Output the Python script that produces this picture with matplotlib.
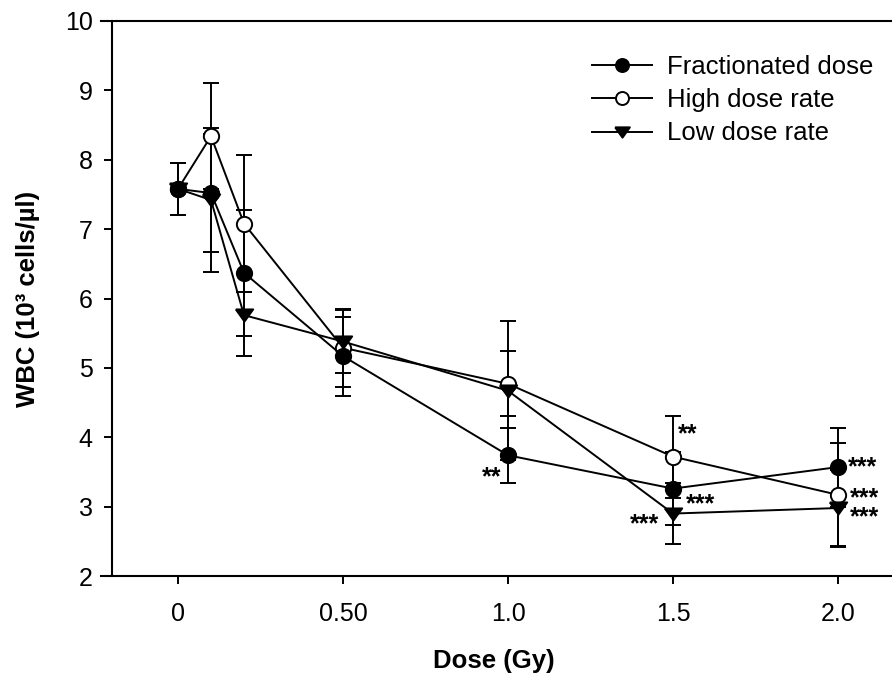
import matplotlib
matplotlib.use('Agg')
import matplotlib.pyplot as plt

plt.rcParams['font.family'] = ['Liberation Sans', 'DejaVu Sans']

# WBC counts (10^3 cells/ul) vs dose
dose = [0, 0.1, 0.2, 0.5, 1.0, 1.5, 2.0]
frac = [7.58, 7.52, 6.37, 5.17, 3.74, 3.26, 3.57]
frac_err = [0.38, 0.85, 0.91, 0.57, 0.40, 0.53, 0.57]
high = [7.58, 8.34, 7.08, 5.29, 4.77, 3.72, 3.17]
high_err = [0.38, 0.76, 0.99, 0.56, 0.47, 0.59, 0.75]
low = [7.58, 7.42, 5.76, 5.38, 4.67, 2.90, 2.98]
low_err = [0.38, 1.04, 0.59, 0.45, 1.00, 0.44, 0.55]

labels = ['Fractionated dose', 'High dose rate', 'Low dose rate']
xticks = [0, 0.5, 1.0, 1.5, 2.0]
xticklabels = ['0', '0.50', '1.0', '1.5', '2.0']
yticks = [2, 3, 4, 5, 6, 7, 8, 9, 10]

# significance marks: (series, dose, text)
stars = [('frac', 1.0, '**'), ('high', 1.5, '**'), ('frac', 1.5, '***'),
         ('low', 1.5, '***'), ('frac', 2.0, '***'), ('high', 2.0, '***'),
         ('low', 2.0, '***')]
star_offsets = [(-16, -22), (15, 22), (28, -16), (-28, -11), (25, 0), (27, -3), (27, -9)]

series = {'frac': frac, 'high': high, 'low': low}

# flat down-pointing triangle like the original
tri = [(-1, 0.7), (1, 0.7), (0, -0.7), (-1, 0.7)]

fig = plt.figure(figsize=(8.92, 6.79), dpi=100)
ax = fig.add_axes([101 / 892, 1 - 576 / 679, 791 / 892, 555 / 679])

lw = 1.4
common = dict(color='black', lw=lw, elinewidth=lw, capthick=lw, capsize=6,
              markeredgewidth=1.4, markeredgecolor='black')
h_high = ax.errorbar(dose, high, yerr=high_err, fmt='-', marker='o', markersize=11,
                     markerfacecolor='white', **common)
h_low = ax.errorbar(dose, low, yerr=low_err, fmt='-', marker=tri, markersize=12.5,
                    markerfacecolor='black', **common)
h_frac = ax.errorbar(dose, frac, yerr=frac_err, fmt='-', marker='o', markersize=11,
                     markerfacecolor='black', **common)

for (name, d, txt), off in zip(stars, star_offsets):
    ax.annotate(txt, xy=(d, series[name][dose.index(d)]), xytext=off,
                textcoords='offset pixels', ha='center', va='center',
                fontsize=18, fontweight='bold')

ax.set_xlim(-0.2333, 2.1636)
ax.set_ylim(2, 10)
ax.set_xticks(xticks)
ax.set_xticklabels(xticklabels)
ax.set_yticks(yticks)

ax.spines['right'].set_visible(False)
ax.spines['left'].set_position(('data', -0.2))
for s in ['left', 'top', 'bottom']:
    ax.spines[s].set_linewidth(1.5)
ax.tick_params(axis='x', direction='out', length=6, width=1.4, pad=13, labelsize=18)
ax.tick_params(axis='y', direction='out', length=6, width=1.4, pad=8, labelsize=18)

ax.set_xlabel('Dose (Gy)', fontsize=18.5, fontweight='bold')
ax.xaxis.set_label_coords(0.497, -0.131)
ax.xaxis.label.set_va('top')
ax.set_ylabel('WBC (10³ cells/µl)', fontsize=18.5, fontweight='bold')
ax.yaxis.set_label_coords(-0.077, 0.5)

ax.legend([h_frac[0], h_high[0], h_low[0]], labels, loc='upper left',
          bbox_to_anchor=(592 / 892, 1 - 55 / 679), bbox_transform=fig.transFigure,
          frameon=False, fontsize=18.5, markerscale=0.85, handlelength=2.33,
          handletextpad=0.6, labelspacing=0.36, borderpad=0, borderaxespad=0)

fig.savefig('out.png', dpi=100)
